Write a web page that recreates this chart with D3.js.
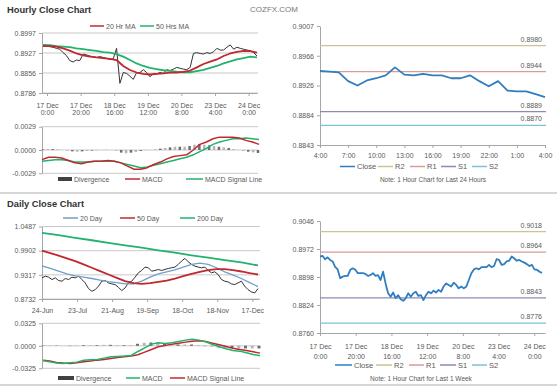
<!DOCTYPE html>
<html>
<head>
<meta charset="utf-8">
<script src="https://cdn.jsdelivr.net/npm/d3@7"></script>
<style>
  body { margin: 0; background: #fff; }
  svg { display: block; }
</style>
</head>
<body>
<svg id="chart" width="560" height="386"></svg>
<script>
// ---- data ----

// Hourly close chart (left, top)
var hourlyClose = [0.8955, 0.8950, 0.8949, 0.8947, 0.8943, 0.8940, 0.8928, 0.8918, 0.8900, 0.8895,
    0.8902, 0.8900, 0.8923, 0.8920, 0.8916, 0.8914, 0.8911, 0.8914, 0.8911, 0.8908,
    0.8904, 0.8906, 0.8943, 0.8820, 0.8858, 0.8855, 0.8845, 0.8834, 0.8858, 0.8858,
    0.8868, 0.8858, 0.8843, 0.8855, 0.8853, 0.8858, 0.8855, 0.8868, 0.8865, 0.8870,
    0.8876, 0.8873, 0.8870, 0.8868, 0.8876, 0.8925, 0.8928, 0.8925, 0.8923, 0.8928,
    0.8925, 0.8931, 0.8943, 0.8937, 0.8937, 0.8947, 0.8955, 0.8940, 0.8947, 0.8943,
    0.8940, 0.8937, 0.8935, 0.8928, 0.8916];
var hourlyMA20 = [0.8951, 0.8951, 0.8949, 0.8943, 0.8935, 0.8925, 0.8918, 0.8914, 0.8911, 0.8909,
    0.8906, 0.8902, 0.8881, 0.8867, 0.8858, 0.8853, 0.8851, 0.8853, 0.8855, 0.8858,
    0.8858, 0.8860, 0.8865, 0.8876, 0.8888, 0.8896, 0.8904, 0.8916, 0.8925, 0.8931,
    0.8934, 0.8933, 0.8928];
var hourlyMA50 = [0.8955, 0.8954, 0.8951, 0.8949, 0.8947, 0.8943, 0.8940, 0.8937, 0.8934, 0.8930,
    0.8928, 0.8923, 0.8914, 0.8902, 0.8890, 0.8881, 0.8874, 0.8870, 0.8866, 0.8864,
    0.8861, 0.8859, 0.8859, 0.8863, 0.8867, 0.8874, 0.8881, 0.8890, 0.8897, 0.8904,
    0.8909, 0.8914, 0.8911];
var hourlyMacd = [-0.0012, -0.0009, -0.0009, -0.0010, -0.0013, -0.0016, -0.0017, -0.0015, -0.0014, -0.0014,
    -0.0013, -0.0014, -0.0016, -0.0020, -0.0024, -0.0024, -0.0022, -0.0018, -0.0015, -0.0011,
    -0.0008, -0.0007, -0.0006, 0.0000, 0.0007, 0.0010, 0.0014, 0.0016, 0.0016, 0.0016,
    0.0015, 0.0012, 0.0010, 0.0007];
var hourlySignal = [-0.0014, -0.0013, -0.0012, -0.0012, -0.0013, -0.0015, -0.0015, -0.0015, -0.0014, -0.0014,
    -0.0014, -0.0014, -0.0016, -0.0018, -0.0020, -0.0022, -0.0021, -0.0019, -0.0017, -0.0015,
    -0.0013, -0.0011, -0.0009, -0.0006, -0.0002, 0.0002, 0.0007, 0.0010, 0.0012, 0.0014,
    0.0014, 0.0015, 0.0014, 0.0013];
var hourlyDiv = [0.00008, 0.00012, 0.00012, 0.00008, 0, -0.00008, -0.00017, -0.00021, -0.00017, -0.00012,
    -0.00008, -0.00004, 0, 0.00004, 0, -0.00008, -0.00033, -0.00041, -0.00033, -0.00025,
    -0.00012, -0.00004, 0, 0.00008, 0.00017, 0.00025, 0.00033, 0.00041, 0.00041, 0.00041,
    0.0005, 0.00066, 0.00075, 0.00066, 0.00058, 0.0005, 0.00041, 0.00033, 0.00025, 0.00012,
    0, -0.00012, -0.00021, -0.00029, -0.00037];
var hourlyYLabels = ['0.8997', '0.8927', '0.8856', '0.8786'];
var hourlyMacdLabels = ['0.0029', '0.0000', '-0.0029'];
var weekXLabels = [['17 Dec', '0:00'], ['17 Dec', '20:00'], ['18 Dec', '16:00'], ['19 Dec', '12:00'],
    ['20 Dec', '8:00'], ['23 Dec', '4:00'], ['24 Dec', '0:00']];

// Daily close chart (left, bottom)
var dailyClose = [0.9244, 0.9285, 0.9260, 0.9203, 0.9244, 0.9179, 0.9163, 0.9228, 0.9203, 0.9260,
    0.9244, 0.9285, 0.9203, 0.9122, 0.8984, 0.8919, 0.8959, 0.9041, 0.9163, 0.9179,
    0.9122, 0.9098, 0.9081, 0.9016, 0.8935, 0.9000, 0.9122, 0.9163, 0.9260, 0.9366,
    0.9422, 0.9504, 0.9488, 0.9406, 0.9422, 0.9447, 0.9422, 0.9447, 0.9471, 0.9488,
    0.9504, 0.9569, 0.9650, 0.9715, 0.9634, 0.9569, 0.9528, 0.9504, 0.9488, 0.9504,
    0.9422, 0.9366, 0.9390, 0.9325, 0.9203, 0.9163, 0.9146, 0.9098, 0.9081, 0.9122,
    0.9163, 0.9041, 0.8959, 0.8903, 0.8878, 0.8984];
var daily20 = [0.9536, 0.9471, 0.9406, 0.9341, 0.9293, 0.9260, 0.9228, 0.9187, 0.9154, 0.9130,
    0.9098, 0.9098, 0.9163, 0.9260, 0.9341, 0.9390, 0.9439, 0.9504, 0.9569, 0.9601,
    0.9569, 0.9488, 0.9390, 0.9309, 0.9228, 0.9130, 0.9033];
var daily50 = [0.9902, 0.9845, 0.9780, 0.9715, 0.9650, 0.9569, 0.9488, 0.9406, 0.9325, 0.9244,
    0.9163, 0.9114, 0.9098, 0.9114, 0.9146, 0.9179, 0.9228, 0.9285, 0.9341, 0.9390,
    0.9431, 0.9455, 0.9455, 0.9431, 0.9398, 0.9358, 0.9325];
var daily200 = [1.0332, 1.0276, 1.0211, 1.0154, 1.0089, 1.0032, 0.9975, 0.9910, 0.9853, 0.9788,
    0.9731, 0.9674, 0.9617, 0.9544];
var dailyMacd = [-0.0217, -0.0231, -0.0250, -0.0255, -0.0245, -0.0236, -0.0207, -0.0202, -0.0197, -0.0178,
    -0.0159, -0.0154, -0.0149, -0.0140, -0.0082, -0.0029, 0.0024, 0.0043, 0.0034, 0.0043,
    0.0063, 0.0082, 0.0096, 0.0082, 0.0058, 0.0019, -0.0014, -0.0043, -0.0067, -0.0077,
    -0.0101, -0.0125, -0.0144];
var dailySignal = [-0.0207, -0.0221, -0.0241, -0.0250, -0.0255, -0.0245, -0.0231, -0.0221, -0.0207, -0.0197,
    -0.0183, -0.0168, -0.0159, -0.0149, -0.0130, -0.0091, -0.0053, -0.0014, 0.0005, 0.0024,
    0.0038, 0.0053, 0.0067, 0.0072, 0.0063, 0.0038, 0.0014, -0.0010, -0.0034, -0.0053,
    -0.0067, -0.0087, -0.0106];
var dailyDiv = [0.0005, 0.0005, 0.0005, 0, -0.0005, -0.0005, 0.001, 0.001, 0.001, 0.0014,
    0.0014, 0.001, 0.001, 0.001, 0.0029, 0.0043, 0.0048, 0.0048, 0.0038, 0.0024,
    0.0019, 0.0019, 0.0019, 0.001, -0.0005, -0.0014, -0.0024, -0.0029, -0.0034, -0.0038,
    -0.0038, -0.0038, -0.0038];
var dailyYLabels = ['1.0487', '0.9902', '0.9317', '0.8732'];
var dailyMacdLabels = ['0.0325', '0.0000', '-0.0325'];
var dailyXLabels = ['24-Jun', '23-Jul', '21-Aug', '19-Sep', '18-Oct', '18-Nov', '17-Dec'];

// 24 hour chart (right, top)
var dayClose = [0.8945, 0.8944, 0.8943, 0.8931, 0.8925, 0.8932, 0.8935, 0.8939, 0.8950, 0.8940,
    0.8939, 0.8941, 0.8939, 0.8939, 0.8935, 0.8935, 0.8939, 0.8931, 0.8924, 0.8931,
    0.8918, 0.8917, 0.8917, 0.8913, 0.8909];
var dayLevels = [0.8980, 0.8944, 0.8889, 0.8870];
var dayYLabels = ['0.9007', '0.8966', '0.8926', '0.8884', '0.8843'];
var dayXLabels = ['4:00', '7:00', '10:00', '13:00', '16:00', '19:00', '22:00', '1:00', '4:00'];

// 1 week chart (right, bottom)
var weekClose = [0.8952, 0.8954, 0.8945, 0.8950, 0.8943, 0.8939, 0.8925, 0.8918, 0.8895, 0.8899,
    0.8901, 0.8901, 0.8917, 0.8921, 0.8917, 0.8908, 0.8908, 0.8908, 0.8906, 0.8901,
    0.8903, 0.8908, 0.8901, 0.8903, 0.8890, 0.8912, 0.8881, 0.8855, 0.8846, 0.8857,
    0.8842, 0.8850, 0.8839, 0.8835, 0.8842, 0.8855, 0.8846, 0.8855, 0.8859, 0.8848,
    0.8850, 0.8837, 0.8850, 0.8859, 0.8855, 0.8862, 0.8857, 0.8864, 0.8859, 0.8873,
    0.8881, 0.8877, 0.8873, 0.8883, 0.8877, 0.8868, 0.8873, 0.8868, 0.8873, 0.8890,
    0.8908, 0.8918, 0.8921, 0.8918, 0.8924, 0.8924, 0.8924, 0.8930, 0.8924, 0.8927,
    0.8945, 0.8943, 0.8930, 0.8932, 0.8939, 0.8941, 0.8952, 0.8947, 0.8941, 0.8943,
    0.8939, 0.8936, 0.8932, 0.8927, 0.8930, 0.8918, 0.8917, 0.8912, 0.8909];
var weekLevels = [0.9018, 0.8964, 0.8843, 0.8776];
var weekYLabels = ['0.9046', '0.8972', '0.8898', '0.8824', '0.8760'];

var levelNames = ['R2', 'R1', 'S1', 'S2'];

// ---- styles ----
var FONT = '"Liberation Sans", Arial, sans-serif';
var TEXT = '#595959';
var AXIS = '#a6a6a6';
var GRID = '#c9c9c9';
var RED = '#c0282e';
var GREEN = '#22b26d';
var BLUE_MA = '#6f9fca';
var CLOSE_BLUE = '#2f7ebf';
var LEVEL_COLORS = ['#cbc58e', '#d99a98', '#8e8bb0', '#78c3dc'];

var svg = d3.select('#chart').attr('font-family', FONT);

function styleAxis(ax) {
    ax.attr('font-size', 7).attr('font-family', FONT);
    ax.select('.domain').attr('stroke', AXIS);
    ax.selectAll('.tick line').attr('stroke', AXIS);
    ax.selectAll('.tick text').attr('fill', TEXT);
}

// y axis with labels listed top to bottom, evenly spaced over the domain
function yAxis(x, x1, y, labels, grid) {
    var dom = y.domain(), n = labels.length;
    var ticks = labels.map(function (l, i) { return dom[1] - (dom[1] - dom[0]) * i / (n - 1); });
    if (grid) {
        svg.append('g').selectAll('line').data(ticks).join('line')
            .attr('x1', x).attr('x2', x1)
            .attr('y1', function (d) { return y(d); }).attr('y2', function (d) { return y(d); })
            .attr('stroke', GRID).attr('stroke-width', 1);
    }
    var ax = svg.append('g').attr('transform', 'translate(' + x + ',0)')
        .call(d3.axisLeft(y).tickValues(ticks)
            .tickFormat(function (d, i) { return labels[i]; })
            .tickSize(3).tickSizeOuter(0));
    styleAxis(ax);
}

// bottom axis, labels may be one or two lines
function xAxis(x, y0, tickVals, labels, dy1, dy2) {
    var ax = svg.append('g').attr('transform', 'translate(0,' + y0 + ')')
        .call(d3.axisBottom(x).tickValues(tickVals).tickFormat('').tickSize(3).tickSizeOuter(0));
    styleAxis(ax);
    ax.selectAll('.tick text').remove();
    ax.selectAll('.tick').each(function (d, i) {
        var lines = [].concat(labels[i]);
        var t = d3.select(this).append('text').attr('text-anchor', 'middle').attr('fill', TEXT);
        lines.forEach(function (s, k) {
            t.append('tspan').attr('x', 0).attr('y', k === 0 ? dy1 : dy2).text(s);
        });
    });
}

function drawLine(data, x0, x1, y, color, width) {
    var x = d3.scaleLinear().domain([0, data.length - 1]).range([x0, x1]);
    svg.append('path').datum(data)
        .attr('fill', 'none').attr('stroke', color).attr('stroke-width', width)
        .attr('stroke-linejoin', 'round')
        .attr('d', d3.line().x(function (d, i) { return x(i); }).y(function (d) { return y(d); }));
}

function drawBars(data, x0, x1, y, bw) {
    var x = d3.scaleLinear().domain([0, data.length - 1]).range([x0, x1]);
    svg.append('g').selectAll('rect').data(data).join('rect')
        .attr('x', function (d, i) { return x(i) - bw / 2; })
        .attr('y', function (d) { return Math.min(y(d), y(0)); })
        .attr('width', bw)
        .attr('height', function (d) { return Math.abs(y(d) - y(0)); })
        .attr('fill', function (d, i) { return i % 2 ? '#b5b5b5' : '#6e6e6e'; });
}

function legend(items, y, size) {
    var g = svg.append('g').attr('font-size', size).attr('fill', TEXT);
    items.forEach(function (it) {
        if (it.block) {
            g.append('rect').attr('x', it.x).attr('y', y - 2).attr('width', it.w).attr('height', 4).attr('fill', '#404040');
        } else {
            g.append('line').attr('x1', it.x).attr('x2', it.x + it.w).attr('y1', y).attr('y2', y)
                .attr('stroke', it.color).attr('stroke-width', 1.5);
        }
        g.append('text').attr('x', it.x + it.w + 2).attr('y', y + 2.5).text(it.label);
    });
}

function levels(vals, x0, x1, y) {
    vals.forEach(function (v, i) {
        svg.append('line').attr('x1', x0).attr('x2', x1).attr('y1', y(v)).attr('y2', y(v))
            .attr('stroke', LEVEL_COLORS[i]).attr('stroke-width', 1.2);
        svg.append('text').attr('x', x1 - 4).attr('y', y(v) - 4).attr('text-anchor', 'end')
            .attr('font-size', 7).attr('fill', TEXT).text(v.toFixed(4));
    });
}

// ---- titles and separators ----
svg.append('text').attr('x', 7).attr('y', 13).attr('font-size', 9.3).attr('font-weight', 'bold')
    .attr('fill', '#333').text('Hourly Close Chart');
svg.append('text').attr('x', 250).attr('y', 12).attr('font-size', 8).attr('fill', '#777')
    .text('COZFX.COM');
svg.append('text').attr('x', 7).attr('y', 207).attr('font-size', 9.3).attr('font-weight', 'bold')
    .attr('fill', '#333').text('Daily Close Chart');
svg.append('line').attr('x1', 0).attr('x2', 557).attr('y1', 193).attr('y2', 193)
    .attr('stroke', '#c8c8c8').attr('stroke-width', 1.5);
svg.append('line').attr('x1', 0).attr('x2', 557).attr('y1', 385).attr('y2', 385)
    .attr('stroke', '#c8c8c8').attr('stroke-width', 1.5);

var hourTicks = [0, 20, 40, 60, 80, 100, 120];

// ---- hourly close (left top) ----
var yH = d3.scaleLinear().domain([0.8786, 0.8997]).range([93, 33]);
var xH = d3.scaleLinear().domain([-3, 125]).range([42, 257]);
yAxis(42, 258, yH, hourlyYLabels, true);
xAxis(xH, 93, hourTicks, weekXLabels, 14.5, 22);
drawLine(hourlyClose, 43, 257, yH, '#333', 1);
drawLine(hourlyMA50, 43, 257, yH, GREEN, 1.8);
drawLine(hourlyMA20, 43, 257, yH, RED, 1.8);
legend([
    { x: 90, w: 14, color: RED, label: '20 Hr MA' },
    { x: 140, w: 14, color: GREEN, label: '50 Hrs MA' }
], 26, 7);

// ---- hourly MACD ----
var yHM = d3.scaleLinear().domain([-0.0029, 0.0029]).range([173.3, 126.7]);
yAxis(42, 258, yHM, hourlyMacdLabels, true);
drawBars(hourlyDiv, 43, 258, yHM, 2.5);
drawLine(hourlySignal, 42, 259, yHM, GREEN, 1.5);
drawLine(hourlyMacd, 42, 259, yHM, RED, 1.5);
legend([
    { x: 58, w: 14, block: true, label: 'Divergence' },
    { x: 125, w: 15, color: RED, label: 'MACD' },
    { x: 186, w: 17, color: GREEN, label: 'MACD Signal Line' }
], 179, 7);

// ---- daily close (left bottom) ----
var yD = d3.scaleLinear().domain([0.8732, 1.0487]).range([299, 226.5]);
var xD = d3.scaleLinear().domain([0, 130]).range([42, 259]);
yAxis(42, 260, yD, dailyYLabels, true);
xAxis(xD, 299, [0, 21, 42, 63, 84, 105, 126], dailyXLabels, 13.5, 0);
drawLine(dailyClose, 42, 258, yD, '#333', 1);
drawLine(daily20, 42, 258, yD, BLUE_MA, 1.3);
drawLine(daily50, 42, 258, yD, RED, 1.8);
drawLine(daily200, 42, 258, yD, GREEN, 1.8);
legend([
    { x: 63, w: 15, color: BLUE_MA, label: '20 Day' },
    { x: 120, w: 15, color: RED, label: '50 Day' },
    { x: 180, w: 15, color: GREEN, label: '200 Day' }
], 218, 7);

// ---- daily MACD ----
var yDM = d3.scaleLinear().domain([-0.0325, 0.0325]).range([368.3, 323.3]);
yAxis(42, 260, yDM, dailyMacdLabels, true);
drawBars(dailyDiv, 43, 259, yDM, 3);
drawLine(dailySignal, 43, 260, yDM, RED, 1.5);
drawLine(dailyMacd, 43, 260, yDM, GREEN, 1.5);
legend([
    { x: 58, w: 16, block: true, label: 'Divergence' },
    { x: 126, w: 14, color: GREEN, label: 'MACD' },
    { x: 170, w: 15, color: RED, label: 'MACD Signal Line' }
], 378, 7);

// ---- 24 hour close (right top) ----
var yR = d3.scaleLinear().domain([0.8843, 0.9007]).range([145, 26]);
var xR = d3.scalePoint().domain(d3.range(dayXLabels.length)).range([320, 545]);
yAxis(320, 546, yR, dayYLabels, false);
xAxis(xR, 145, d3.range(dayXLabels.length), dayXLabels, 13, 0);
levels(dayLevels, 320, 546, yR);
drawLine(dayClose, 320, 545, yR, CLOSE_BLUE, 1.8);
legend([
    { x: 340, w: 15, color: CLOSE_BLUE, label: 'Close' },
    { x: 378, w: 15, color: LEVEL_COLORS[0], label: levelNames[0] },
    { x: 410, w: 15, color: LEVEL_COLORS[1], label: levelNames[1] },
    { x: 441, w: 15, color: LEVEL_COLORS[2], label: levelNames[2] },
    { x: 472, w: 15, color: LEVEL_COLORS[3], label: levelNames[3] }
], 166.5, 7.5);
svg.append('text').attr('x', 433).attr('y', 182).attr('text-anchor', 'middle')
    .attr('font-size', 6.5).attr('fill', TEXT).text('Note: 1 Hour Chart for Last 24 Hours');

// ---- 1 week close (right bottom) ----
var yW = d3.scaleLinear().domain([0.8750, 0.9046]).range([333, 221]);
var xW = d3.scaleLinear().domain([0, 126]).range([320, 545]);
yAxis(320, 546, yW, weekYLabels, false);
xAxis(xW, 333, hourTicks, weekXLabels, 16, 25.5);
levels(weekLevels, 320, 546, yW);
drawLine(weekClose, 320, 542, yW, CLOSE_BLUE, 1.8);
legend([
    { x: 335, w: 17, color: CLOSE_BLUE, label: 'Close' },
    { x: 376, w: 16, color: LEVEL_COLORS[0], label: levelNames[0] },
    { x: 409, w: 15, color: LEVEL_COLORS[1], label: levelNames[1] },
    { x: 440, w: 16, color: LEVEL_COLORS[2], label: levelNames[2] },
    { x: 472, w: 15, color: LEVEL_COLORS[3], label: levelNames[3] }
], 365, 7.5);
svg.append('text').attr('x', 421).attr('y', 381).attr('text-anchor', 'middle')
    .attr('font-size', 6.5).attr('fill', TEXT).text('Note: 1 Hour Chart for Last 1 Week');
</script>
</body>
</html>
